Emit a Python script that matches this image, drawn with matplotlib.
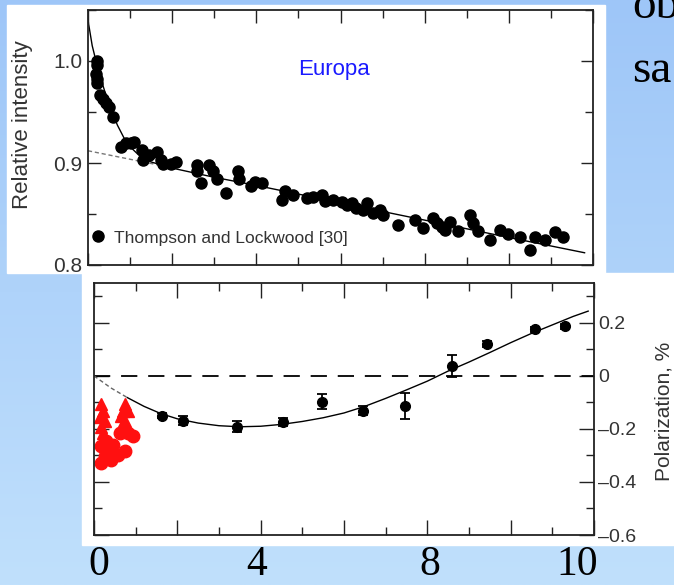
import numpy as np
import matplotlib.pyplot as plt
from matplotlib.patches import Rectangle
from matplotlib.ticker import MultipleLocator, FixedLocator, FixedFormatter

# --- Europa relative intensity vs phase angle (Thompson and Lockwood [30]) ---
phase_i = [0.21, 0.21, 0.19, 0.21, 0.21, 0.29, 0.36, 0.43, 0.50, 0.59,
           0.78, 0.90, 1.02, 1.09, 1.28, 1.31, 1.45, 1.64, 1.73, 1.78,
           1.97, 2.09, 2.59, 2.59, 2.69, 2.88, 2.97, 3.07, 3.28, 3.56,
           3.59, 3.87, 3.97, 4.13, 4.61, 4.68, 4.87, 5.20, 5.35, 5.56,
           5.63, 5.82, 6.04, 6.15, 6.27, 6.37, 6.54, 6.63, 6.77, 6.94,
           7.01, 7.37, 7.77, 7.96, 8.20, 8.29, 8.41, 8.48, 8.60, 8.79,
           9.08, 9.15, 9.27, 9.55, 9.79, 9.98, 10.27, 10.50, 10.62, 10.86,
           11.10, 11.29]
intens = [1.000, 0.996, 0.987, 0.982, 0.978, 0.967, 0.963, 0.959, 0.955, 0.945,
          0.916, 0.920, 0.920, 0.921, 0.913, 0.903, 0.908, 0.911, 0.903, 0.899,
          0.899, 0.901, 0.898, 0.892, 0.880, 0.898, 0.892, 0.884, 0.871, 0.892,
          0.884, 0.877, 0.881, 0.880, 0.864, 0.873, 0.869, 0.866, 0.867, 0.869,
          0.863, 0.864, 0.862, 0.859, 0.861, 0.856, 0.854, 0.861, 0.851, 0.854,
          0.849, 0.839, 0.844, 0.836, 0.846, 0.841, 0.837, 0.834, 0.842, 0.833,
          0.849, 0.841, 0.833, 0.825, 0.834, 0.830, 0.827, 0.815, 0.827, 0.825,
          0.832, 0.827]

# model curve and its linear part
fit_x = [0.0, 0.1, 0.25, 0.4, 0.55, 0.7, 0.85, 1.0, 1.2, 1.5, 2.0, 3.0, 4.0,
         6.0, 8.0, 10.0, 11.8]
fit_y = [1.040, 1.015, 0.990, 0.970, 0.952, 0.937, 0.925, 0.916, 0.908, 0.901,
         0.895, 0.886, 0.878, 0.861, 0.844, 0.827, 0.812]
lin_x = [0.0, 1.8]
lin_y = [0.912, 0.897]

# --- polarization ---
pol_x = [1.63, 2.14, 3.43, 4.54, 5.47, 6.46, 7.46, 8.59, 9.43, 10.58, 11.30]
pol_y = [-0.150, -0.169, -0.191, -0.173, -0.098, -0.131, -0.112, 0.037, 0.120, 0.176, 0.187]
pol_err = [0.010, 0.018, 0.020, 0.015, 0.028, 0.018, 0.049, 0.041, 0.010, 0.010, 0.010]

red_tri_x = [0.17, 0.22, 0.14, 0.26, 0.17, 0.22, 0.74, 0.70, 0.82, 0.65, 0.74, 0.65]
red_tri_y = [-0.105, -0.131, -0.154, -0.169, -0.191, -0.217, -0.105, -0.131, -0.131,
             -0.150, -0.169, -0.191]
red_dot_x = [0.29, 0.17, 0.34, 0.26, 0.17, 0.41, 0.58, 0.74, 0.46, 0.62, 0.82, 0.94]
red_dot_y = [-0.244, -0.266, -0.281, -0.304, -0.330, -0.319, -0.300, -0.285, -0.262,
             -0.217, -0.217, -0.225]

pcurve_x = [0.0, 0.4, 0.8, 1.2, 1.6, 2.0, 2.5, 3.0, 3.5, 4.0, 4.5, 5.0, 5.5, 6.0,
            6.5, 7.0, 7.5, 8.0, 8.5, 9.0, 9.5, 10.0, 10.5, 11.0, 11.5, 11.86]
pcurve_y = [0.0, -0.045, -0.082, -0.115, -0.142, -0.162, -0.178, -0.188, -0.192,
            -0.190, -0.183, -0.172, -0.158, -0.140, -0.115, -0.085, -0.053, -0.020,
            0.018, 0.052, 0.088, 0.125, 0.160, 0.192, 0.224, 0.244]
n_dash = 3  # first points of the curve drawn dashed

# slide-style axis numbers
slide_nums = ['0', '4', '8', '10']
slide_num_x = [99, 257, 430, 577]

W, H = 674, 585
fig = plt.figure(figsize=(W / 100, H / 100), dpi=100)

# blue slide background
bg = fig.add_axes([0, 0, 1, 1], zorder=-10)
grad = np.linspace(0, 1, 256)[:, None]
c_top = np.array([158, 198, 248]) / 255
c_bot = np.array([192, 224, 252]) / 255
img = c_top[None, None, :] * (1 - grad[:, :, None]) + c_bot[None, None, :] * grad[:, :, None]
bg.imshow(np.repeat(img, 2, axis=1), aspect='auto', extent=[0, 1, 0, 1])
bg.set_axis_off()

# white panels behind the plots
fig.patches.append(Rectangle((7 / W, 1 - 273 / H), 598 / W, 268 / H,
                             transform=fig.transFigure, color='white', zorder=-5))
fig.patches.append(Rectangle((82 / W, 1 - 545 / H), 592 / W, 272 / H,
                             transform=fig.transFigure, color='white', zorder=-5))

font = 'Liberation Sans'

# ---------------- top: relative intensity ----------------
ax1 = fig.add_axes([88 / W, 1 - 265 / H, 505 / W, 255 / H])
ax1.patch.set_alpha(0)
ax1.plot(lin_x, lin_y, color='#777777', lw=1.0, dashes=(3, 2))
ax1.plot(fit_x, fit_y, color='k', lw=1.0)
ax1.plot(phase_i, intens, 'o', color='k', ms=8, mec='k',
         label='Thompson and Lockwood [30]')
ax1.set_xlim(0, 12)
ax1.set_ylim(0.8, 1.05)
ax1.xaxis.set_major_locator(MultipleLocator(2))
ax1.xaxis.set_minor_locator(MultipleLocator(1))
ax1.yaxis.set_major_locator(FixedLocator([0.8, 0.9, 1.0]))
ax1.yaxis.set_major_formatter(FixedFormatter(['0.8', '0.9', '1.0']))
ax1.yaxis.set_minor_locator(MultipleLocator(0.05))
ax1.tick_params(which='both', direction='in', top=True, right=True,
                labelbottom=False, width=1.0, color='#222222')
ax1.tick_params(which='major', length=9)
ax1.tick_params(which='minor', length=6)
ax1.tick_params(axis='y', labelsize=15, pad=4)
for lab in ax1.get_yticklabels():
    lab.set_family(font)
    lab.set_color('#333333')
for s in ax1.spines.values():
    s.set_linewidth(1.3)
    s.set_color('#222222')
ax1.set_ylabel('Relative intensity', fontsize=16, family=font, color='#333333')
ax1.yaxis.set_label_coords(-0.109, 0.55)
ax1.text(0.487, 0.765, 'Europa', transform=ax1.transAxes, ha='center', va='center',
         fontsize=16, family=font, color='#1a1aff')
ax1.legend(loc='center left', bbox_to_anchor=(0.006, 0.106), frameon=False,
           handlelength=0.8, handletextpad=0.5, borderaxespad=0, borderpad=0,
           prop={'family': font, 'size': 12.5}, labelcolor='#333333')

# ---------------- bottom: polarization ----------------
ax2 = fig.add_axes([94 / W, 1 - 535 / H, 500 / W, 252 / H])
ax2.patch.set_alpha(0)
ax2.axhline(0, color='k', lw=1.3, dashes=(9, 6))
ax2.plot(red_tri_x, red_tri_y, '^', color='#ff1010', ms=9, mec='#ff1010')
ax2.plot(red_dot_x, red_dot_y, 'o', color='#ff1010', ms=9, mec='#ff1010')
ax2.plot(pcurve_x[:n_dash], pcurve_y[:n_dash], color='#666666', lw=1.0, dashes=(3, 2))
ax2.plot(pcurve_x[n_dash - 1:], pcurve_y[n_dash - 1:], color='k', lw=1.0)
ax2.errorbar(pol_x, pol_y, yerr=pol_err, fmt='o', color='k', ms=7,
             capsize=3.5, elinewidth=1.3, capthick=1.3)
ax2.set_xlim(0, 12)
ax2.set_ylim(-0.6, 0.35)
ax2.xaxis.set_major_locator(MultipleLocator(2))
ax2.xaxis.set_minor_locator(MultipleLocator(1))
ax2.yaxis.set_major_locator(FixedLocator([-0.6, -0.4, -0.2, 0.0, 0.2]))
ax2.yaxis.set_major_formatter(FixedFormatter(['\u20130.6', '\u20130.4', '\u20130.2', '0', '0.2']))
ax2.yaxis.set_minor_locator(MultipleLocator(0.1))
ax2.tick_params(which='both', direction='in', top=True, right=True,
                labelbottom=False, labelleft=False, labelright=True,
                width=1.0, color='#222222')
ax2.tick_params(which='major', length=11)
ax2.tick_params(which='minor', length=6)
ax2.tick_params(axis='y', labelsize=14, pad=3)
for lab in ax2.get_yticklabels():
    lab.set_family(font)
    lab.set_color('#333333')
for s in ax2.spines.values():
    s.set_linewidth(1.3)
    s.set_color('#222222')
ax2.yaxis.set_label_position('right')
ax2.set_ylabel('Polarization, %', fontsize=15, family=font, color='#333333',
               rotation=90)
ax2.yaxis.set_label_coords(1.122, 0.49)

# slide text
for t, px in zip(slide_nums, slide_num_x):
    fig.text(px / W, 1 / H, t, ha='center', va='bottom',
             fontsize=30, family='Liberation Serif', color='k')
fig.text(632 / W, 1 - 18 / H, 'ob', ha='left', va='baseline',
         fontsize=34, family='Liberation Serif', color='k')
fig.text(632 / W, 1 - 82 / H, 'sa', ha='left', va='baseline',
         fontsize=34, family='Liberation Serif', color='k')

fig.savefig('out.png', dpi=100)
